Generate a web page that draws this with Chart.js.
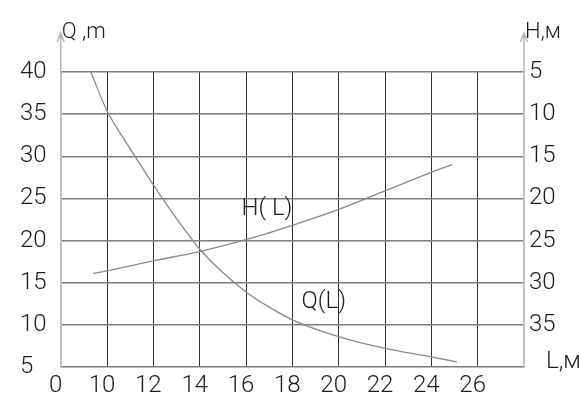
<!DOCTYPE html>
<html>
<head>
<meta charset="utf-8">
<script src="https://cdn.jsdelivr.net/npm/chart.js@4/dist/chart.umd.min.js"></script>
<style>
  html, body { margin: 0; padding: 0; background: #fff; }
  #c { display: block; }
</style>
</head>
<body>
<canvas id="c" width="579" height="396"></canvas>
<script>
// Flow Q against length L (left axis)
const lengthQ = [9.3, 10, 11, 12, 13, 14, 15, 16, 17, 18, 20, 22, 24, 25.1];
const flowQ   = [40, 35.4, 30.9, 26.6, 22.6, 19.0, 16.2, 13.9, 12.1, 10.6, 8.6, 7.2, 6.2, 5.6];

// Head H against length L (right axis, increasing downward)
const lengthH = [9.4, 10, 12, 14, 16, 18, 20, 22, 24, 24.9];
const headH   = [28.9, 28.6, 27.4, 26.3, 24.9, 23.2, 21.3, 19.1, 16.9, 16.0];

// Axis ranges and tick steps
const xRange = [8, 28];
const xStep = 2;
const qRange = [5, 40];
const hRange = [5, 40];
const yStep = 5;

const FONT = 'Roboto';
const TEXT = '#1c1c1c';

const pts = (xs, ys) => xs.map((x, i) => ({ x, y: ys[i] }));

// Axis arrows, axis names and curve captions
const decor = {
  id: 'decor',
  afterDraw(chart) {
    const { ctx, chartArea, scales } = chart;
    ctx.save();
    // arrows on both vertical axes
    ctx.strokeStyle = '#b8b8b8';
    ctx.lineWidth = 1.6;
    [chartArea.left, chartArea.right].forEach(x => {
      ctx.beginPath();
      ctx.moveTo(x, chartArea.top);
      ctx.lineTo(x, 33);
      ctx.moveTo(x - 3.5, 42);
      ctx.lineTo(x, 33);
      ctx.lineTo(x + 3.5, 42);
      ctx.stroke();
    });
    ctx.fillStyle = TEXT;
    ctx.textBaseline = 'alphabetic';
    ctx.textAlign = 'left';
    ctx.font = `300 22px ${FONT}`;
    ctx.fillText('Q ,m', chartArea.left + 1, 38);
    ctx.fillText('H,м', chartArea.right + 1, 38);
    ctx.font = `300 24px ${FONT}`;
    ctx.textBaseline = 'middle';
    ctx.fillText('L,м', 546, 362);
    // curve captions, placed in data coordinates
    ctx.font = `300 24px ${FONT}`;
    ctx.fillText('H( L)', scales.x.getPixelForValue(15.8), scales.y.getPixelForValue(23.7));
    ctx.fillText('Q(L)', scales.x.getPixelForValue(18.4), scales.y.getPixelForValue(12.7));
    ctx.restore();
  }
};

new Chart(document.getElementById('c'), {
  type: 'line',
  data: {
    datasets: [
      {
        label: 'Q(L)',
        data: pts(lengthQ, flowQ),
        yAxisID: 'y',
        borderColor: '#8a8a8a',
        borderWidth: 1.3,
        pointRadius: 0,
        cubicInterpolationMode: 'monotone',
        fill: false
      },
      {
        label: 'H(L)',
        data: pts(lengthH, headH),
        yAxisID: 'y2',
        borderColor: '#8a8a8a',
        borderWidth: 1.3,
        pointRadius: 0,
        cubicInterpolationMode: 'monotone',
        fill: false
      }
    ]
  },
  options: {
    responsive: false,
    animation: false,
    devicePixelRatio: 1,
    layout: { padding: { left: 20, right: 0, top: 72, bottom: 0 } },
    plugins: { legend: { display: false }, tooltip: { enabled: false } },
    scales: {
      x: {
        type: 'linear',
        min: xRange[0], max: xRange[1],
        afterFit(s) { s.height = 29; },
        ticks: {
          stepSize: xStep,
          color: TEXT,
          font: { family: FONT, size: 24, weight: 300 },
          padding: 5,
          labelOffset: -5,
          maxRotation: 0,
          autoSkip: false,
          callback: v => v === xRange[0] ? '0' : (v === xRange[1] ? '' : String(v))
        },
        grid: {
          drawTicks: false,
          lineWidth: 1,
          color: c => (c.tick.value === xRange[0] || c.tick.value === xRange[1]) ? 'rgba(0,0,0,0)' : '#333'
        },
        border: { color: '#7a7a7a', width: 1.5 }
      },
      y: {
        position: 'left',
        min: qRange[0], max: qRange[1],
        afterFit(s) { s.width = 40.7; },
        ticks: {
          stepSize: yStep,
          color: TEXT,
          font: { family: FONT, size: 24, weight: 300 },
          crossAlign: 'far',
          padding: 4
        },
        grid: {
          drawTicks: false,
          lineWidth: 1.5,
          color: c => c.tick.value === qRange[0] ? 'rgba(0,0,0,0)' : '#7c7c7c'
        },
        border: { color: '#c0c0c0', width: 2 }
      },
      y2: {
        position: 'right',
        reverse: true,
        min: hRange[0], max: hRange[1],
        afterFit(s) { s.width = 55; },
        ticks: {
          stepSize: yStep,
          color: TEXT,
          font: { family: FONT, size: 24, weight: 300 },
          crossAlign: 'near',
          padding: 5,
          callback: v => v === hRange[1] ? '' : String(v)
        },
        grid: { display: false, drawTicks: false },
        border: { color: '#c0c0c0', width: 2 }
      }
    }
  },
  plugins: [decor]
});
</script>
</body>
</html>
